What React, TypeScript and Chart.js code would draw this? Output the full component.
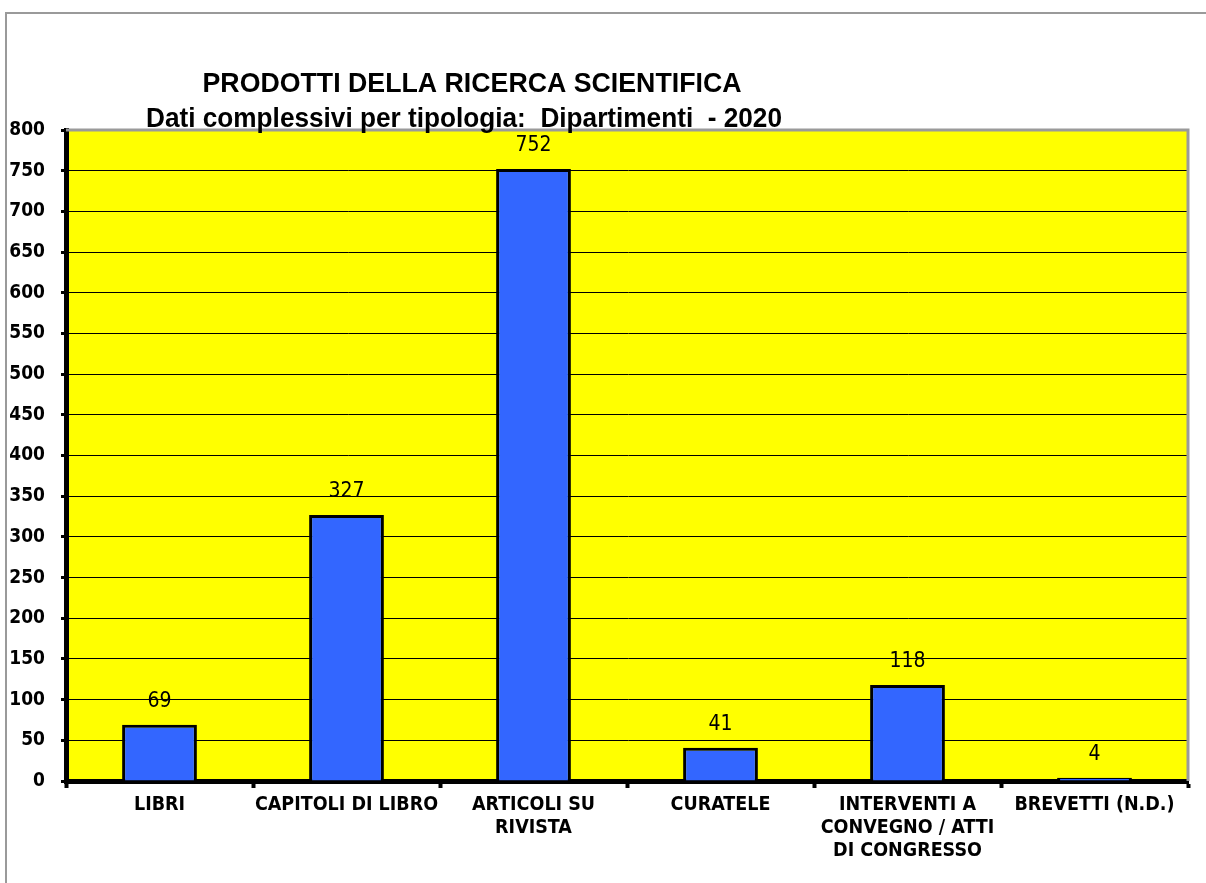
import React, { useEffect, useRef } from "react";
import { Chart, registerables } from "chart.js";

Chart.register(...registerables);

const categories: string[][] = [
  ["LIBRI"],
  ["CAPITOLI DI LIBRO"],
  ["ARTICOLI SU", "RIVISTA"],
  ["CURATELE"],
  ["INTERVENTI A", "CONVEGNO / ATTI", "DI CONGRESSO"],
  ["BREVETTI (N.D.)"],
];
const values: number[] = [69, 327, 752, 41, 118, 4];
const titleLines: string[] = [
  "PRODOTTI DELLA RICERCA SCIENTIFICA",
  "Dati complessivi per tipologia:  Dipartimenti  - 2020",
];
const yMin = 0;
const yMax = 800;
const yStep = 50;

const W = 1206;
const H = 883;

const decorPlugin = {
  id: "decor",
  beforeDraw(chart: any) {
    const { ctx, chartArea } = chart;
    ctx.save();
    ctx.fillStyle = "#ffffff";
    ctx.fillRect(0, 0, W, H);
    // outer frame
    ctx.strokeStyle = "#9a9a9a";
    ctx.lineWidth = 2;
    ctx.beginPath();
    ctx.moveTo(6, H + 5);
    ctx.lineTo(6, 13);
    ctx.lineTo(W + 5, 13);
    ctx.stroke();
    // plot background
    ctx.fillStyle = "#ffff00";
    ctx.fillRect(chartArea.left, chartArea.top, chartArea.right - chartArea.left, chartArea.bottom - chartArea.top);
    ctx.restore();
  },
  afterDatasetsDraw(chart: any) {
    const { ctx, chartArea } = chart;
    ctx.save();
    // gray top/right frame of plot
    ctx.strokeStyle = "#9a9a9a";
    ctx.lineWidth = 3;
    ctx.beginPath();
    ctx.moveTo(chartArea.left, chartArea.top);
    ctx.lineTo(chartArea.right, chartArea.top);
    ctx.lineTo(chartArea.right, chartArea.bottom);
    ctx.stroke();
    // value labels
    const meta = chart.getDatasetMeta(0);
    ctx.fillStyle = "#000";
    ctx.font = '21px "DejaVu Sans Condensed", "DejaVu Sans"';
    ctx.textAlign = "center";
    ctx.textBaseline = "alphabetic";
    meta.data.forEach((el: any, i: number) => {
      ctx.fillText(String(values[i]), el.x, el.y - 18);
    });
    // title
    ctx.font = 'bold 28px "Liberation Sans Narrow", "Liberation Sans", Arial, sans-serif';
    const targets = [539, 636];
    const baselines = [92, 127];
    const centers = [472, 464];
    titleLines.forEach((t, i) => {
      const w = ctx.measureText(t).width;
      const sx = w > 0 ? Math.min(1, targets[i] / w) : 1;
      ctx.save();
      ctx.translate(centers[i], baselines[i]);
      ctx.scale(sx, 1);
      ctx.textAlign = "center";
      ctx.fillText(t, 0, 0);
      ctx.restore();
    });
    ctx.restore();
  },
};

export default function App() {
  const ref = useRef<HTMLCanvasElement | null>(null);
  useEffect(() => {
    if (!ref.current) return;
    const chart = new Chart(ref.current, {
      type: "bar",
      data: {
        labels: categories,
        datasets: [
          {
            data: values,
            backgroundColor: "#3366ff",
            borderColor: "#000000",
            borderWidth: 3,
            barPercentage: 0.4,
            categoryPercentage: 1,
          },
        ],
      },
      options: {
        responsive: false,
        animation: false,
        layout: { padding: { left: 0, top: 130, right: 18, bottom: 0 } },
        plugins: {
          legend: { display: false },
          title: { display: false },
          tooltip: { enabled: false },
        },
        scales: {
          x: {
            offset: true,
            grid: {
              display: true,
              offset: true,
              drawOnChartArea: false,
              drawTicks: true,
              tickLength: 7,
              tickWidth: 4,
              tickColor: "#000",
              color: "#000",
            },
            border: { display: true, color: "#000", width: 5 },
            ticks: {
              color: "#000",
              padding: 6,
              maxRotation: 0,
              autoSkip: false,
              font: { family: '"DejaVu Sans Condensed", "DejaVu Sans"', weight: "bold", size: 19.5, lineHeight: 1.16 },
            },
            afterFit: (s: any) => {
              s.height = 102;
            },
          },
          y: {
            min: yMin,
            max: yMax,
            grid: {
              color: "#000",
              lineWidth: 1,
              drawTicks: true,
              tickLength: 5,
              tickWidth: 3,
              tickColor: "#000",
            },
            border: { display: true, color: "#000", width: 5 },
            ticks: {
              stepSize: yStep,
              color: "#000",
              padding: 16,
              font: { family: '"DejaVu Sans Condensed", "DejaVu Sans"', weight: "bold", size: 19 },
            },
            afterFit: (s: any) => {
              s.width = 66;
            },
          },
        },
      },
      plugins: [decorPlugin],
    });
    return () => chart.destroy();
  }, []);
  return (
    <div style={{ position: "fixed", left: 0, top: 0, width: W, height: H, background: "#fff" }}>
      <canvas ref={ref} width={W} height={H} style={{ width: W, height: H, display: "block" }} />
    </div>
  );
}
